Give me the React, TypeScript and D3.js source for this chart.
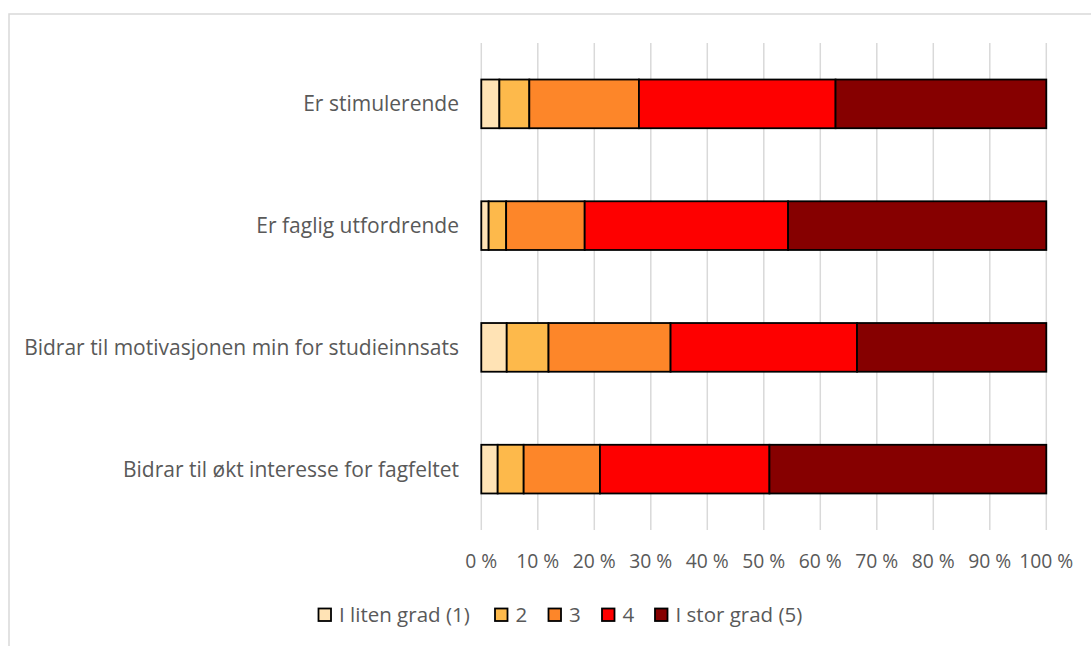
import React from "react";
import * as d3 from "d3";

const categories = [
  "Er stimulerende",
  "Er faglig utfordrende",
  "Bidrar til motivasjonen min for studieinnsats",
  "Bidrar til økt interesse for fagfeltet",
];
const seriesNames = ["I liten grad (1)", "2", "3", "4", "I stor grad (5)"];
const colors = ["#FFE3B5", "#FDB94B", "#FD8629", "#FE0000", "#860000"];
const s1 = [3.2, 1.3, 4.5, 2.9];
const s2 = [5.3, 3.1, 7.4, 4.6];
const s3 = [19.4, 13.9, 21.6, 13.5];
const s4 = [34.8, 36.0, 33.0, 30.0];
const s5 = [37.3, 45.7, 33.5, 49.0];
const ticks = [0, 10, 20, 30, 40, 50, 60, 70, 80, 90, 100];

const W = 1091;
const H = 646;
const font = "'Open Sans', sans-serif";
const textColor = "#595959";

export default function App() {
  const x = d3.scaleLinear().domain([0, 100]).range([481.3, 1046.3]);
  const y = d3.scaleBand<string>().domain(categories).range([43, 530]).paddingInner(0.6).paddingOuter(0.3);
  const series = [s1, s2, s3, s4, s5];
  const rows = categories.map((c, i) => {
    let acc = 0;
    return series.map((s, k) => {
      const x0 = acc;
      acc += s[i];
      return { c, k, x0, x1: acc };
    });
  });
  const legendX = [318.5, 495, 548.5, 602, 655];
  return (
    <svg width={W} height={H} style={{ position: "absolute", left: 0, top: 0, background: "#fff" }}>
      <rect x={9} y={14} width={1200} height={800} fill="#fff" stroke="#d9d9d9" strokeWidth={1.5} />
      {ticks.map((t) => (
        <line key={t} x1={x(t)} x2={x(t)} y1={43} y2={530} stroke="#d9d9d9" strokeWidth={1.5} />
      ))}
      {rows.map((segs, i) =>
        segs.map((d) => (
          <rect
            key={i + "-" + d.k}
            x={x(d.x0)}
            y={y(d.c)!}
            width={x(d.x1) - x(d.x0)}
            height={y.bandwidth()}
            fill={colors[d.k]}
            stroke="#000"
            strokeWidth={1.8}
          />
        ))
      )}
      {categories.map((c) => (
        <text
          key={c}
          x={459}
          y={y(c)! + y.bandwidth() / 2}
          dy="0.36em"
          textAnchor="end"
          fontFamily={font}
          fontSize={21}
          fill={textColor}
        >
          {c}
        </text>
      ))}
      {ticks.map((t) => (
        <text key={t} x={x(t)} y={567.5} textAnchor="middle" fontFamily={font} fontSize={19.3} fill={textColor}>
          {t + " %"}
        </text>
      ))}
      {seriesNames.map((n, k) => (
        <g key={n}>
          <rect x={legendX[k]} y={608.5} width={12.5} height={12.5} fill={colors[k]} stroke="#000" strokeWidth={1.8} />
          <text x={legendX[k] + 20.5} y={622} fontFamily={font} fontSize={20.5} fill={textColor}>
            {n}
          </text>
        </g>
      ))}
    </svg>
  );
}
